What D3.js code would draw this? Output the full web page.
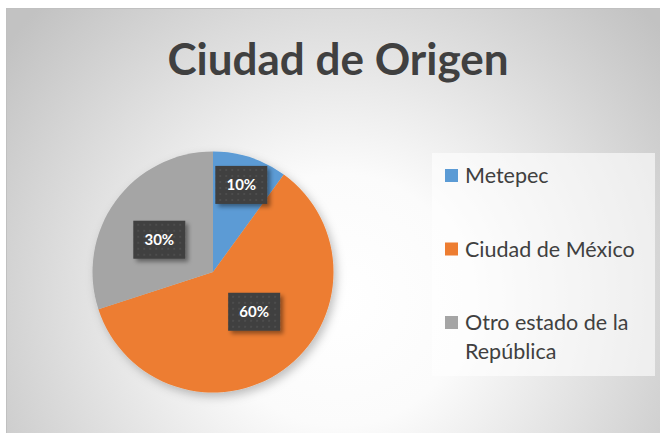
<!DOCTYPE html>
<html>
<head>
    <meta charset="utf-8">
    <script src="https://d3js.org/d3.v7.min.js"></script>
    <style>
      body { margin: 0; background: #fff; }
      text { font-family: Lato, "Open Sans", sans-serif; }
    </style>
</head>
<body>
    <script>
      // data
      const categories = ["Metepec", "Ciudad de México", "Otro estado de la República"];
      const values = [10, 60, 30];
      const colors = ["#5B9BD5", "#ED7D31", "#A5A5A5"];
      const title = "Ciudad de Origen";

      const width = 660, height = 433;
      const cx = 213, cy = 272, radius = 120.5;

      // best-fit label spots, as Excel placed them (radius fraction, angle nudge in degrees)
      const labelFit = [[0.76, 0], [0.475, -10], [0.52, -5]];

      const svg = d3.select('body').append('svg')
          .attr('width', width)
          .attr('height', height);

      const defs = svg.append('defs');

      const grad = defs.append('radialGradient')
          .attr('id', 'bg')
          .attr('gradientUnits', 'userSpaceOnUse')
          .attr('cx', 340).attr('cy', 300)
          .attr('r', 420);
      grad.append('stop').attr('offset', '0%').attr('stop-color', '#ffffff');
      grad.append('stop').attr('offset', '30%').attr('stop-color', '#fbfbfb');
      grad.append('stop').attr('offset', '100%').attr('stop-color', '#c2c2c2');

      const pat = defs.append('pattern')
          .attr('id', 'dots')
          .attr('width', 6).attr('height', 6)
          .attr('patternUnits', 'userSpaceOnUse');
      pat.append('rect').attr('width', 6).attr('height', 6).attr('fill', '#3f3f3f');
      pat.append('rect').attr('x', 2).attr('y', 2).attr('width', 2).attr('height', 2).attr('fill', '#4e4e4e');

      const pieShadow = defs.append('filter').attr('id', 'pieShadow')
          .attr('x', '-20%').attr('y', '-20%').attr('width', '140%').attr('height', '140%');
      pieShadow.append('feDropShadow')
          .attr('dx', 3).attr('dy', 4).attr('stdDeviation', 5)
          .attr('flood-color', '#000').attr('flood-opacity', 0.25);

      const boxShadow = defs.append('filter').attr('id', 'boxShadow')
          .attr('x', '-30%').attr('y', '-30%').attr('width', '170%').attr('height', '170%');
      boxShadow.append('feDropShadow')
          .attr('dx', 3).attr('dy', 3).attr('stdDeviation', 2)
          .attr('flood-color', '#000').attr('flood-opacity', 0.4);

      // chart area
      svg.append('rect')
          .attr('x', 6.5).attr('y', 8.5)
          .attr('width', width).attr('height', height)
          .attr('fill', 'url(#bg)')
          .attr('stroke', '#c0c0c0');

      svg.append('text')
          .attr('x', 338).attr('y', 75)
          .attr('text-anchor', 'middle')
          .attr('font-size', 44)
          .attr('font-weight', 'bold')
          .attr('fill', '#404040')
          .text(title);

      // pie
      const pie = d3.pie().value(d => d).sort(null);
      const arc = d3.arc().innerRadius(0).outerRadius(radius);
      const arcs = pie(values);

      const g = svg.append('g').attr('transform', `translate(${cx},${cy})`);

      g.append('g').attr('filter', 'url(#pieShadow)')
        .selectAll('path')
        .data(arcs)
        .enter().append('path')
          .attr('d', arc)
          .attr('fill', (d, i) => colors[i]);

      const total = d3.sum(values);
      const lab = g.selectAll('.lab')
          .data(arcs)
          .enter().append('g')
          .attr('class', 'lab')
          .attr('transform', (d, i) => {
              const a = (d.startAngle + d.endAngle) / 2 + labelFit[i][1] * Math.PI / 180;
              const r = radius * labelFit[i][0];
              return `translate(${r * Math.sin(a)},${-r * Math.cos(a)})`;
          });

      lab.append('rect')
          .attr('x', -26).attr('y', -19)
          .attr('width', 52).attr('height', 38)
          .attr('fill', 'url(#dots)')
          .attr('filter', 'url(#boxShadow)');

      lab.append('text')
          .attr('text-anchor', 'middle')
          .attr('dy', '0.36em')
          .attr('font-size', 15)
          .attr('font-weight', 'bold')
          .attr('fill', '#ffffff')
          .text(d => Math.round(d.value / total * 100) + '%');

      // legend
      const legend = svg.append('g');
      legend.append('rect')
          .attr('x', 432).attr('y', 153)
          .attr('width', 223).attr('height', 223)
          .attr('fill', '#ffffff')
          .attr('fill-opacity', 0.6);

      const itemY = d3.scalePoint().domain(categories).range([183, 330]);

      const items = legend.selectAll('.item')
          .data(categories)
          .enter().append('g')
          .attr('class', 'item')
          .attr('transform', d => `translate(445,${itemY(d)})`);

      items.append('rect')
          .attr('x', 0).attr('y', -14)
          .attr('width', 13).attr('height', 13)
          .attr('fill', (d, i) => colors[i]);

      items.append('text')
          .attr('x', 20)
          .attr('font-size', 21.5)
          .attr('fill', '#404040')
          .each(function(d) {
              // wrap long labels like Excel does
              const t = d3.select(this);
              const words = d.split(' ');
              let line = [];
              let tspan = t.append('tspan').attr('x', 20).attr('dy', 0);
              words.forEach(w => {
                  line.push(w);
                  tspan.text(line.join(' '));
                  if (tspan.node().getComputedTextLength() > 185 && line.length > 1) {
                      line.pop();
                      tspan.text(line.join(' '));
                      line = [w];
                      tspan = t.append('tspan').attr('x', 20).attr('dy', 29).text(w);
                  }
              });
          });
    </script>
</body>
</html>
